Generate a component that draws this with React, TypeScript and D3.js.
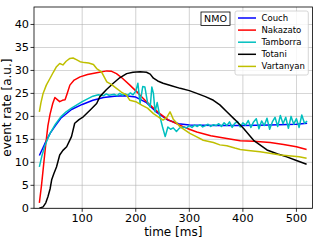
import React from 'react';
import * as d3 from 'd3';

// time [ms] / event rate [a.u.] pairs
const couchT = [20, 30, 40, 50, 60, 80, 100, 120, 140, 160, 180, 200, 220, 240, 260, 280, 300, 350, 400, 450, 500, 520];
const couchV = [11.5, 14, 16.3, 18, 19.6, 21.5, 22.6, 23.5, 24.1, 24.4, 24.5, 24.2, 23, 20.8, 19.2, 18.4, 18.1, 18, 18, 18.1, 18.3, 18.5];

const nakazatoT = [20, 24, 28, 32, 36, 40, 45, 49, 54, 58, 63, 68, 72, 77, 85, 96, 110, 127, 146, 155, 164, 175, 189, 205, 220, 235, 245, 260, 282, 300, 314, 340, 370, 395, 420, 451, 476, 500, 519];
const nakazatoV = [1.2, 5, 9.5, 14, 18, 20.5, 22.8, 24.1, 23.6, 23.2, 23.5, 23.6, 25, 26.8, 27.9, 28.6, 29.1, 29.5, 29.9, 29.8, 29.3, 28.3, 26.8, 25, 23.2, 21.6, 20.6, 19.3, 18.1, 17.2, 16.6, 15.8, 15.2, 14.7, 14.6, 14.3, 13.9, 13.4, 12.8];

const tamborraT = [20, 25, 30, 35, 40, 50, 60, 70, 80, 90, 100, 110, 120, 130, 140, 145, 150, 160, 165, 170, 175, 180, 185, 190, 195, 200, 204, 208, 213, 217, 222, 227, 230, 233, 236, 240, 245, 250, 255, 260, 265, 270, 276, 282, 289, 295, 300, 305, 310, 315, 320, 325, 330, 335, 340, 345, 350, 355, 360, 365, 370, 375, 380, 385, 390, 395, 400, 405, 410, 415, 420, 425, 430, 435, 440, 445, 450, 455, 460, 465, 470, 475, 480, 485, 490, 495, 500, 505, 510, 515, 520];
const tamborraV = [9, 11.5, 13.5, 15, 16.3, 18.3, 19.9, 21, 21.8, 22.5, 23.2, 23.8, 24.4, 24.7, 24.5, 24.9, 24.6, 24.8, 24.5, 25, 24.6, 24.9, 24.6, 25.1, 24.7, 25.5, 27.2, 22.8, 26.5, 26.4, 23, 22, 26.4, 25, 21, 23, 20, 17.7, 15.6, 17.7, 17.2, 17.5, 16.7, 17.5, 17.7, 17.5, 18, 17.6, 18.1, 17.8, 18.2, 17.7, 18, 18.3, 17.8, 18.2, 18, 18.4, 17.8, 18.6, 18, 18.8, 17.6, 18.5, 18.9, 17.7, 18.6, 18.1, 19.1, 17.6, 18.8, 19.5, 17.3, 19, 18, 19.6, 17.2, 18.8, 19.8, 17.8, 20.2, 18.4, 19.8, 17.4, 20, 18.3, 19.5, 17.6, 20.3, 18.5, 19];

const totaniT = [20, 27, 32, 36, 40, 43, 47, 52, 58, 64, 71, 76, 80, 86, 94, 102, 115, 127, 133, 145, 158, 170, 183, 195, 208, 220, 227, 233, 241, 251, 265, 283, 300, 314, 330, 345, 357, 370, 385, 401, 420, 445, 465, 482, 500, 519];
const totaniV = [0, 0.3, 1.2, 2.5, 4.2, 6.2, 7.5, 9, 11.6, 12.6, 13.4, 14.6, 15.6, 18.5, 19.3, 19.9, 21.4, 22.8, 24.3, 25.8, 27.2, 28.4, 29.3, 29.6, 29.7, 29.6, 29.2, 28.3, 27.7, 27.2, 26.7, 26.1, 25.6, 25, 24.3, 23.5, 22.5, 21, 19.3, 17.4, 14.8, 12.7, 11.8, 11.2, 10.4, 9.6];

const vartanyanT = [20, 23, 27, 33, 40, 46, 52, 58, 64, 70, 77, 83, 90, 96, 104, 112, 121, 127, 136, 141, 146, 155, 164, 173, 183, 189, 200, 212, 222, 233, 242, 251, 258, 264, 270, 276, 283, 292, 301, 313, 326, 345, 357, 370, 385, 395, 410, 432, 450, 470, 490, 505, 519];
const vartanyanV = [21, 23, 25, 26.8, 28.3, 29.6, 30.8, 31.5, 31.2, 32, 32.6, 32.7, 32.3, 31.9, 31.7, 31.6, 31.3, 30.4, 29.7, 28.6, 27.5, 26.9, 26.1, 25.3, 24.6, 23.5, 23.2, 22.4, 21.8, 20.6, 19.9, 19.2, 19.8, 21, 19.4, 18.6, 17.7, 17, 16.3, 15.6, 14.8, 14.3, 13.8, 13.6, 13.1, 12.8, 12.6, 12.3, 12, 11.6, 11.4, 11.2, 10.9];

const seriesNames = ['Couch', 'Nakazato', 'Tamborra', 'Totani', 'Vartanyan'];
const seriesT = [couchT, nakazatoT, tamborraT, totaniT, vartanyanT];
const seriesV = [couchV, nakazatoV, tamborraV, totaniV, vartanyanV];
const colors = ['#0000ff', '#ff0000', '#00bfbf', '#000000', '#bfbf00'];

const xTicks = [100, 200, 300, 400, 500];
const yTicks = [0, 5, 10, 15, 20, 25, 30, 35, 40];

const W = 320, H = 240;
const L = 34, R = 312.5, T = 7, B = 208.3;
const font = 'DejaVu Sans, sans-serif';

export default function App() {
  const x = d3.scaleLinear().domain([10, 530]).range([L, R]);
  const y = d3.scaleLinear().domain([0, 43.8]).range([B, T]);
  const line = d3.line<[number, number]>().x(d => x(d[0])).y(d => y(d[1]));

  const lgX = 235, lgY = 11, lgW = 73.3, lgH = 64, rowH = 12.1;

  return (
    <svg width={W} height={H} style={{ position: 'absolute', left: 0, top: 0, background: '#fff' }} fontFamily={font}>
      <defs>
        <clipPath id="plot"><rect x={L} y={T} width={R - L} height={B - T} /></clipPath>
      </defs>
      {/* grid */}
      {xTicks.map(t => <line key={'gx' + t} x1={x(t)} x2={x(t)} y1={T} y2={B} stroke="#b0b0b0" strokeWidth={0.8} opacity={0.7} />)}
      {yTicks.map(t => <line key={'gy' + t} x1={L} x2={R} y1={y(t)} y2={y(t)} stroke="#b0b0b0" strokeWidth={0.8} opacity={0.7} />)}
      {/* lines */}
      <g clipPath="url(#plot)">
        {seriesNames.map((n, i) => (
          <path key={n} d={line(seriesT[i].map((t, j) => [t, seriesV[i][j]] as [number, number])) || ''} fill="none" stroke={colors[i]} strokeWidth={1.5} strokeLinejoin="round" />
        ))}
      </g>
      {/* frame */}
      <rect x={L} y={T} width={R - L} height={B - T} fill="none" stroke="#000" strokeWidth={0.8} />
      {/* ticks */}
      {xTicks.map(t => (
        <g key={'tx' + t}>
          <line x1={x(t)} x2={x(t)} y1={B} y2={B + 3.5} stroke="#000" strokeWidth={0.8} />
          <text x={x(t)} y={B + 14} fontSize={11.3} textAnchor="middle">{t}</text>
        </g>
      ))}
      {yTicks.map(t => (
        <g key={'ty' + t}>
          <line x1={L - 3.5} x2={L} y1={y(t)} y2={y(t)} stroke="#000" strokeWidth={0.8} />
          <text x={L - 5} y={y(t) + 4} fontSize={11.3} textAnchor="end">{t}</text>
        </g>
      ))}
      <text x={(L + R) / 2} y={236} fontSize={12} textAnchor="middle">time [ms]</text>
      <text transform={`translate(10.5, ${(T + B) / 2}) rotate(-90)`} fontSize={12} textAnchor="middle">event rate [a.u.]</text>
      {/* NMO label */}
      <rect x={201} y={12} width={29} height={13.5} fill="#fff" stroke="#000" strokeWidth={0.8} />
      <text x={215.5} y={22.3} fontSize={9.5} textAnchor="middle">NMO</text>
      {/* legend */}
      <rect x={lgX} y={lgY} width={lgW} height={lgH} rx={2} fill="#fff" fillOpacity={0.8} stroke="#cccccc" strokeWidth={0.8} />
      {seriesNames.map((n, i) => (
        <g key={'lg' + n}>
          <line x1={238} x2={256} y1={lgY + 7 + i * rowH} y2={lgY + 7 + i * rowH} stroke={colors[i]} strokeWidth={1.5} />
          <text x={261.5} y={lgY + 10 + i * rowH} fontSize={8.5}>{n}</text>
        </g>
      ))}
    </svg>
  );
}
